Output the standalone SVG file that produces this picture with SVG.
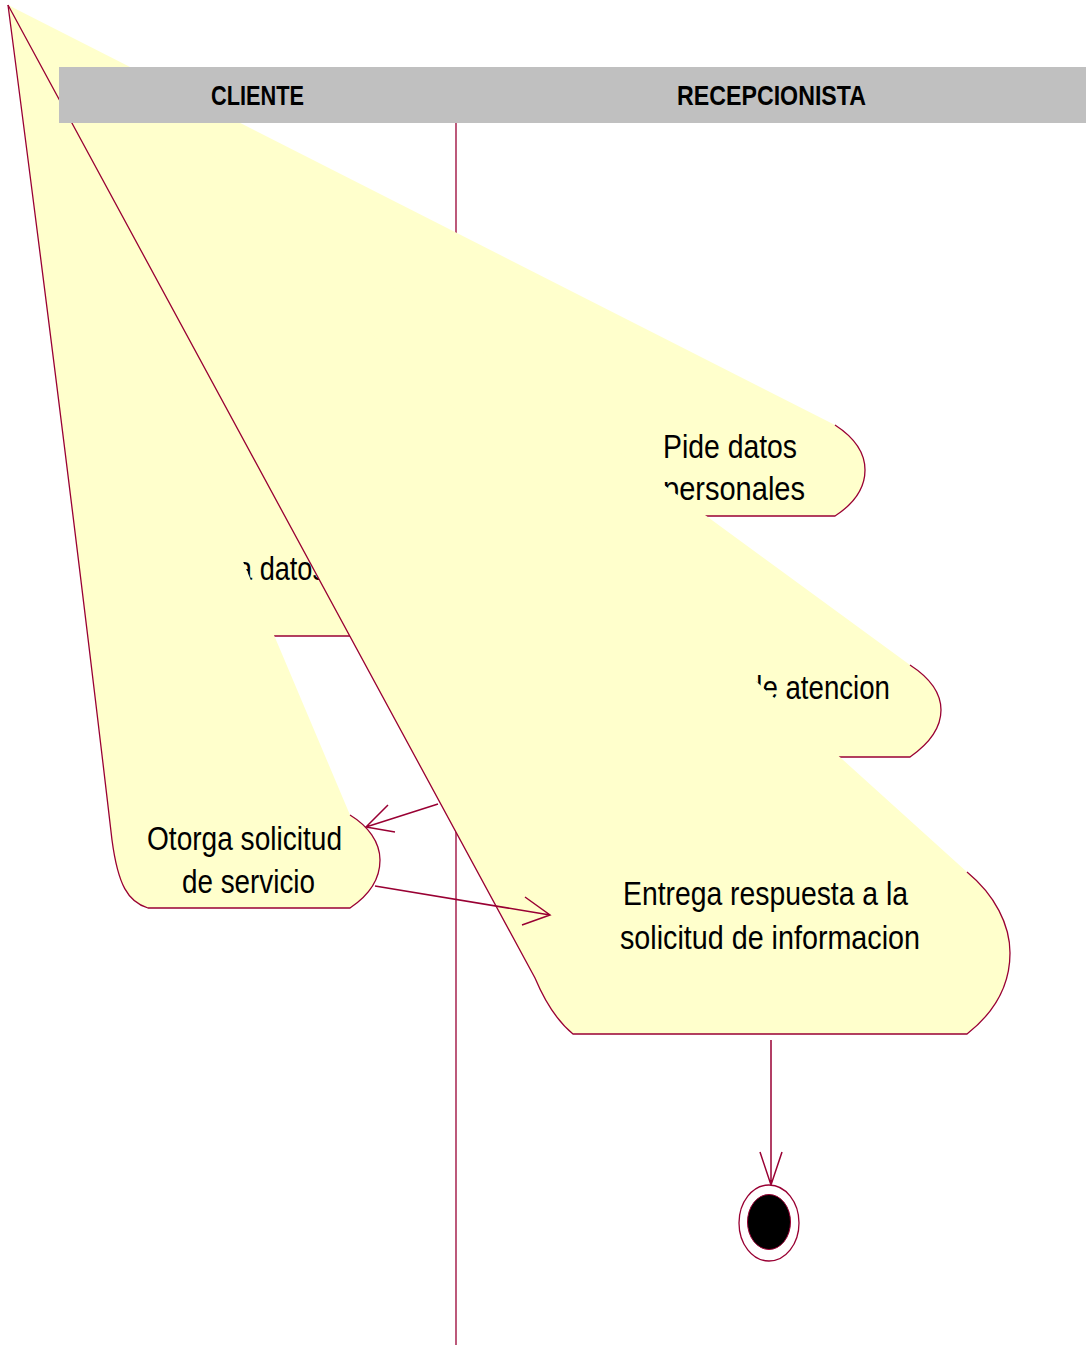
<svg xmlns="http://www.w3.org/2000/svg" width="1086" height="1345" viewBox="0 0 1086 1345">
<style>
.fill{fill:#FFFFCC;stroke:none}
.edge{fill:none;stroke:#990033;stroke-width:1.3}
.lbl{font-family:"Liberation Sans",Arial,sans-serif;font-size:33px;fill:#000}
.hdr{font-family:"Liberation Sans",Arial,sans-serif;font-size:28px;font-weight:bold;fill:#000}
.conn{fill:none;stroke:#990033;stroke-width:1.5}
</style>
<rect width="1086" height="1345" fill="#fff"/>
<g id="lane-divider"><line x1="456" y1="123" x2="456" y2="1345" class="edge"/></g>
<g id="node-pide-datos">
<path class="fill" d="M8,5 L835,425 C855,438 865,453 865,470 C865,488 855,503 835,516 L600,516 Z"/>
<path class="edge" d="M835,425 C855,438 865,453 865,470 C865,488 855,503 835,516 L600,516"/>
<text class="lbl" x="663" y="458" textLength="134" lengthAdjust="spacingAndGlyphs">Pide datos</text>
<text class="lbl" x="663" y="500" textLength="142" lengthAdjust="spacingAndGlyphs">personales</text>
</g>
<g id="node-atencion">
<path class="fill" d="M8,5 L910,665 C930,678 941,693 941,710 C941,728 930,743 910,757 L600,757 Z"/>
<path class="edge" d="M910,665 C930,678 941,693 941,710 C941,728 930,743 910,757 L600,757"/>
<text class="lbl" x="747" y="699" textLength="143" lengthAdjust="spacingAndGlyphs">de atencion</text>
</g>
<g id="connectors-under">
<path class="conn" d="M438,804 L366,827 M388,805 L366,827 L395,832"/>
</g>
<g id="node-datos">
<path class="fill" d="M8,5 L420,500 L420,636 L260,636 Z"/>
<path class="edge" d="M260,636 L420,636"/>
<text class="lbl" x="237" y="580" textLength="89" lengthAdjust="spacingAndGlyphs">a datos</text>
</g>
<g id="node-otorga">
<path class="fill" d="M8,5 Q70,480 112,840 C118,885 128,902 148,908 L350,908 C368,896 380,880 380,860 C380,842 368,826 350,815 Z"/>
<path class="edge" d="M8,5 Q70,480 112,840 C118,885 128,902 148,908 L350,908 C368,896 380,880 380,860 C380,842 368,826 350,815"/>
<text class="lbl" x="147" y="850" textLength="195" lengthAdjust="spacingAndGlyphs">Otorga solicitud</text>
<text class="lbl" x="182" y="893" textLength="133" lengthAdjust="spacingAndGlyphs">de servicio</text>
</g>
<g id="node-entrega">
<path class="fill" d="M8,5 L535,978 Q551,1016 573,1034 L967,1034 C995,1012 1010,985 1010,953 C1010,925 995,895 967,872 Z"/>
<path class="edge" d="M8,5 L535,978 Q551,1016 573,1034 L967,1034 C995,1012 1010,985 1010,953 C1010,925 995,895 967,872"/>
<text class="lbl" x="623" y="905" textLength="285" lengthAdjust="spacingAndGlyphs">Entrega respuesta a la</text>
<text class="lbl" x="620" y="949" textLength="300" lengthAdjust="spacingAndGlyphs">solicitud de informacion</text>
</g>
<g id="connectors">
<path class="conn" d="M375,886 L550,915 M525,897 L550,915 L522,925"/>
<path class="conn" d="M771,1040 L771,1185 M760,1152 L771,1185 L782,1152"/>
</g>
<g id="node-end">
<ellipse cx="769" cy="1223" rx="30" ry="38" fill="#fff" stroke="#990033" stroke-width="1.3"/>
<ellipse cx="769" cy="1222" rx="21.5" ry="27.5" fill="#000" stroke="#990033" stroke-width="1"/>
</g>
<g id="swimlane-header">
<rect x="59" y="67" width="1027" height="56" fill="#C0C0C0"/>
<text class="hdr" x="211" y="105" textLength="93" lengthAdjust="spacingAndGlyphs">CLIENTE</text>
<text class="hdr" x="677" y="105" textLength="189" lengthAdjust="spacingAndGlyphs">RECEPCIONISTA</text>
</g>
</svg>
